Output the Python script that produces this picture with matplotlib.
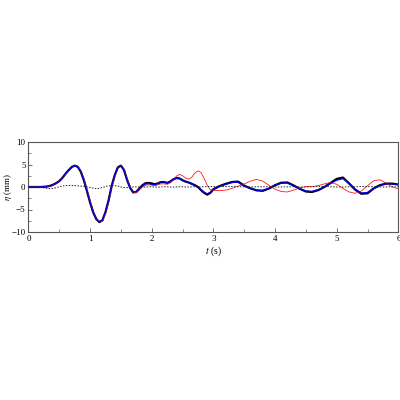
"""
Surface elevation time series: measured vs. two model results.
"""

import matplotlib
matplotlib.use('Agg')
import matplotlib.pyplot as plt
from matplotlib.ticker import MultipleLocator

plt.rcParams['font.family'] = ['Liberation Serif', 'DejaVu Serif']
plt.rcParams['mathtext.fontset'] = 'stix'

# time axis (s): 0.05 s steps up to 3 s, then 0.1 s steps
t = [round(0.05 * i, 2) for i in range(61)] + [round(3.0 + 0.1 * i, 1) for i in range(1, 31)]

# measured (thick black)
eta_meas = [
    0.0, 0.0, 0.0, 0.0, 0.0, 0.05, 0.1, 0.25, 0.5, 0.85,
    1.3, 2.0, 2.9, 3.7, 4.4, 4.75, 4.5, 3.4, 1.5, -0.9,
    -3.4, -5.6, -7.1, -7.8, -7.4, -5.6, -3.0, 0.2, 2.6, 4.35,
    4.75, 3.8, 1.6, -0.2, -1.2, -1.1, -0.3, 0.4, 0.85, 0.9,
    0.8, 0.6, 0.8, 1.1, 1.1, 0.9, 1.2, 1.7, 2.0, 1.9,
    1.5, 1.2, 1.0, 0.7, 0.4, 0.0, -0.7, -1.3, -1.7, -1.3,
    -0.5,
    0.2, 0.7, 1.1, 1.2, 0.3, -0.3, -0.75, -0.85, -0.35, 0.4,
    0.95, 1.0, 0.35, -0.4, -1.0, -1.1, -0.7, 0.0, 0.9, 1.8,
    2.1, 0.8, -0.6, -1.5, -1.4, -0.3, 0.4, 0.75, 0.75, 0.55,
]

# model 1 (blue)
eta_model1 = [
    0.0, 0.0, 0.0, 0.0, 0.0, 0.05, 0.1, 0.25, 0.5, 0.85,
    1.3, 2.0, 2.9, 3.7, 4.4, 4.75, 4.5, 3.4, 1.5, -0.9,
    -3.4, -5.6, -7.1, -7.8, -7.4, -5.6, -3.0, 0.2, 2.6, 4.35,
    4.75, 3.8, 1.6, -0.2, -1.15, -1.0, -0.3, 0.3, 0.7, 0.75,
    0.6, 0.5, 0.8, 1.2, 1.1, 0.9, 1.2, 1.7, 2.0, 1.9,
    1.5, 1.2, 1.0, 0.7, 0.4, 0.0, -0.6, -1.2, -1.5, -1.2,
    -0.4,
    0.2, 0.6, 1.0, 1.05, 0.2, -0.3, -0.7, -0.75, -0.3, 0.4,
    0.9, 0.9, 0.3, -0.4, -0.9, -1.0, -0.6, 0.0, 0.8, 1.5,
    1.85, 0.8, -0.5, -1.35, -1.2, -0.3, 0.35, 0.7, 0.7, 0.5,
]

# model 2 (red)
eta_model2 = [
    0.0, 0.0, 0.0, 0.0, 0.0, 0.05, 0.1, 0.2, 0.45, 0.8,
    1.2, 1.9, 2.8, 3.6, 4.3, 4.75, 4.6, 3.6, 1.8, -0.6,
    -3.1, -5.3, -6.9, -7.7, -7.6, -5.9, -3.3, -0.1, 2.3, 4.2,
    4.8, 3.9, 1.8, 0.0, -1.1, -1.3, -0.7, 0.0, 0.4, 0.5,
    0.4, 0.3, 0.5, 0.7, 0.7, 0.6, 0.9, 1.6, 2.4, 2.8,
    2.5, 2.0, 1.7, 2.2, 3.1, 3.6, 3.2, 1.9, 0.4, -0.6,
    -0.8,
    -0.8, -0.7, -0.3, 0.2, 0.7, 1.3, 1.7, 1.3, 0.4, -0.5,
    -1.0, -1.1, -0.7, -0.2, 0.1, 0.1, 0.3, 0.7, 1.0, 0.6,
    -0.3, -1.1, -1.4, -0.9, 0.3, 1.4, 1.6, 0.9, 0.0, -0.4,
]

# difference / incident component (dashed)
eta_dashed = [
    0.0, 0.0, 0.0, 0.0, -0.1, -0.2, -0.3, -0.35, -0.3, -0.15,
    0.05, 0.2, 0.3, 0.35, 0.35, 0.3, 0.25, 0.2, 0.1, 0.0,
    -0.1, -0.25, -0.35, -0.3, -0.1, 0.1, 0.25, 0.3, 0.3, 0.2,
    0.0, -0.1, -0.15, -0.1, 0.0, 0.05, 0.0, -0.05, 0.0, 0.05,
    0.05, 0.0, -0.05, 0.0, 0.05, 0.05, 0.0, -0.05, 0.0, 0.05,
    0.05, 0.0, 0.0, 0.05, 0.05, 0.0, 0.0, 0.05, 0.1, 0.1,
    0.1,
    0.15, 0.1, 0.1, 0.05, 0.05, 0.0, 0.05, 0.05, 0.05, 0.0,
    0.0, 0.05, 0.05, 0.0, 0.0, 0.05, 0.1, 0.1, 0.05, 0.0,
    0.0, 0.05, 0.05, 0.1, 0.1, 0.05, 0.0, 0.0, 0.05, 0.05,
]

fig = plt.figure(figsize=(4, 4), dpi=100)
ax = fig.add_axes([0.071, 0.42, 0.925, 0.225])

ax.plot(t, eta_meas, color='black', linewidth=1.6, zorder=2)
ax.plot(t, eta_model2, color='#ff1a1a', linewidth=0.6, zorder=3)
ax.plot(t, eta_model1, color='#0000ff', linewidth=0.85, zorder=4)
ax.plot(t, eta_dashed, color='#222222', linewidth=0.7, linestyle=(0, (1.5, 1.5)), zorder=5)

ax.set_xlim(0, 6)
ax.set_ylim(-10, 10)
ax.xaxis.set_major_locator(MultipleLocator(1))
ax.xaxis.set_minor_locator(MultipleLocator(0.5))
ax.yaxis.set_major_locator(MultipleLocator(5))
ax.yaxis.set_minor_locator(MultipleLocator(2.5))
ax.tick_params(which='both', direction='in', labelsize=6.5, colors='#555555',
               labelcolor='black', pad=2)
ax.tick_params(which='major', length=3, width=0.6)
ax.tick_params(which='minor', length=2, width=0.5)

for s in ax.spines.values():
    s.set_color('#555555')
    s.set_linewidth(0.8)

ax.set_xlabel('$t$ (s)', fontsize=7, labelpad=1)
ax.set_ylabel(r'$\eta$ (mm)', fontsize=6.5)
ax.yaxis.set_label_coords(-0.04, 0.5)

plt.savefig('out.png', dpi=100)
plt.close()
